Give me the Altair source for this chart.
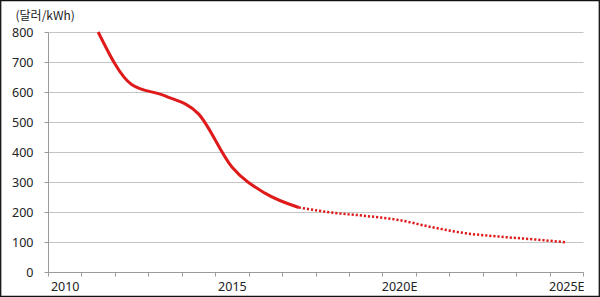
import altair as alt
import pandas as pd

years = ["2010", "2011", "2012", "2013", "2014", "2015", "2016", "2017",
         "2018", "2019", "2020E", "2021E", "2022E", "2023E", "2024E", "2025E"]
actual_years = ["2011", "2012", "2013", "2014", "2015", "2016", "2017"]
actual_vals = [800, 625, 587, 527, 350, 262, 215]
fcst_years = ["2017", "2018", "2019", "2020E", "2021E", "2022E", "2023E", "2024E", "2025E"]
fcst_vals = [215, 198, 187, 173, 149, 129, 118, 109, 99]
shown_labels = ["2010", "2015", "2020E", "2025E"]

W, H = 535, 240
PAD = {"left": 48, "top": 32, "right": 17, "bottom": 25}
RED = "#DE1A1A"
FONT = "Noto Sans"

actual = pd.DataFrame({"year": actual_years, "val": actual_vals})
fcst = pd.DataFrame({"year": fcst_years, "val": fcst_vals})

label_list = "[" + ",".join("'" + s + "'" for s in shown_labels) + "]"

x = alt.X("year:O", bandPosition=0.5,
          scale=alt.Scale(type="band", domain=years, paddingInner=0, paddingOuter=0),
          axis=alt.Axis(title=None, labelAngle=0, tickBand="extent",
                        labelExpr=f"indexof({label_list}, datum.value) >= 0 ? datum.value : ''",
                        grid=False, domainColor="#9a9a9a", tickColor="#9a9a9a",
                        tickSize=4, labelPadding=4, labelFont=FONT, labelFontSize=12.5,
                        labelColor="#222222"))
y = alt.Y("val:Q",
          scale=alt.Scale(domain=[0, 800], nice=False),
          axis=alt.Axis(values=list(range(0, 801, 100)), title="(달러/kWh)",
                        titleAngle=0, titleAlign="left", titleBaseline="middle",
                        titleX=-33, titleY=-17, titleFont="Noto Sans CJK KR",
                        titleFontSize=12, titleFontWeight="normal", titleColor="#222222",
                        grid=True, gridColor="#c4c4c4", gridWidth=1.2,
                        domainColor="#9a9a9a", tickColor="#9a9a9a", tickSize=4,
                        labelPadding=11, labelFont=FONT, labelFontSize=12.5,
                        labelColor="#222222"))

solid = alt.Chart(actual).mark_line(color=RED, strokeWidth=3, interpolate="monotone").encode(x=x, y=y)
dotted = alt.Chart(fcst).mark_line(color=RED, strokeWidth=2.5, interpolate="monotone",
                                   strokeDash=[2.2, 1.9]).encode(x=x, y=y)

frame = alt.Chart(pd.DataFrame({"a": [0]})).mark_rect(
    fill=None, stroke="#111111", strokeWidth=1.3, clip=False
).encode(
    x=alt.value(-PAD["left"] + 0.7), x2=alt.value(W + PAD["right"] - 0.7),
    y=alt.value(-PAD["top"] + 0.7), y2=alt.value(H + PAD["bottom"] - 0.7)
)

chart = alt.layer(solid, dotted, frame).properties(
    width=W, height=H, padding=PAD,
    autosize=alt.AutoSizeParams(type="none"),
    background="white"
).configure_view(stroke=None)

chart.save("out.html", embed_options={"renderer": "svg", "actions": False})
